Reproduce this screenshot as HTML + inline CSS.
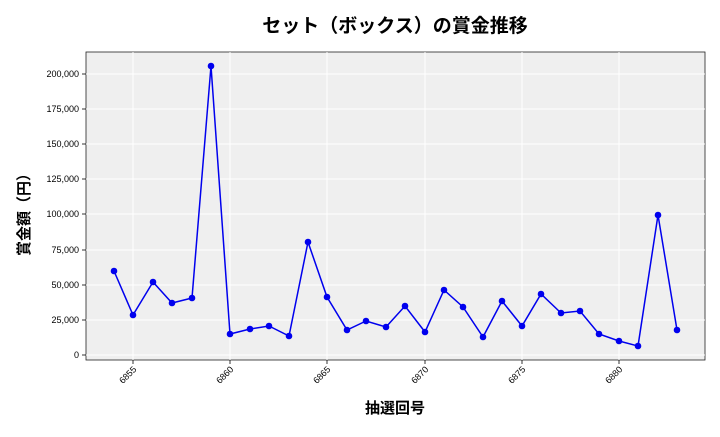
<!DOCTYPE html>
<html><head><meta charset="utf-8"><style>
body{margin:0;background:#fff;}
svg text{font-family:"Liberation Sans","Noto Sans CJK JP",sans-serif;}
</style></head><body>
<svg width="720" height="432" viewBox="0 0 720 432" xmlns="http://www.w3.org/2000/svg">
<rect width="720" height="432" fill="#fff"/>
<rect x="86" y="52" width="619" height="308" fill="#efefef" stroke="#222" stroke-width="0.8"/>
<g stroke="#fff" stroke-width="1">
<line x1="86" x2="705" y1="355" y2="355"/><line x1="86" x2="705" y1="320" y2="320"/>
<line x1="86" x2="705" y1="285" y2="285"/><line x1="86" x2="705" y1="250" y2="250"/>
<line x1="86" x2="705" y1="214" y2="214"/><line x1="86" x2="705" y1="179" y2="179"/>
<line x1="86" x2="705" y1="144" y2="144"/><line x1="86" x2="705" y1="109" y2="109"/>
<line x1="86" x2="705" y1="74" y2="74"/>
<line y1="52" y2="360" x1="133" x2="133"/><line y1="52" y2="360" x1="230" x2="230"/>
<line y1="52" y2="360" x1="327" x2="327"/><line y1="52" y2="360" x1="425" x2="425"/>
<line y1="52" y2="360" x1="522" x2="522"/><line y1="52" y2="360" x1="619" x2="619"/>
</g>
<g font-size="9" fill="#000" text-anchor="end">
<text x="79" y="358">0</text><text x="79" y="323">25,000</text><text x="79" y="288">50,000</text>
<text x="79" y="253">75,000</text><text x="79" y="217">100,000</text><text x="79" y="182">125,000</text>
<text x="79" y="147">150,000</text><text x="79" y="112">175,000</text><text x="79" y="77">200,000</text>
</g>
<g stroke="#000" stroke-width="0.8">
<line x1="82" x2="86" y1="355" y2="355"/><line x1="82" x2="86" y1="320" y2="320"/><line x1="82" x2="86" y1="285" y2="285"/>
<line x1="82" x2="86" y1="250" y2="250"/><line x1="82" x2="86" y1="214" y2="214"/><line x1="82" x2="86" y1="179" y2="179"/>
<line x1="82" x2="86" y1="144" y2="144"/><line x1="82" x2="86" y1="109" y2="109"/><line x1="82" x2="86" y1="74" y2="74"/>
<line y1="360" y2="364" x1="133" x2="133"/><line y1="360" y2="364" x1="230" x2="230"/><line y1="360" y2="364" x1="327" x2="327"/>
<line y1="360" y2="364" x1="425" x2="425"/><line y1="360" y2="364" x1="522" x2="522"/><line y1="360" y2="364" x1="619" x2="619"/>
</g>
<g font-size="9" fill="#000" text-anchor="end">
<text transform="translate(137,370) rotate(-45)">6855</text>
<text transform="translate(234,370) rotate(-45)">6860</text>
<text transform="translate(331,370) rotate(-45)">6865</text>
<text transform="translate(429,370) rotate(-45)">6870</text>
<text transform="translate(526,370) rotate(-45)">6875</text>
<text transform="translate(623,370) rotate(-45)">6880</text>
</g>
<polyline fill="none" stroke="#0000ee" stroke-width="1.5" points="114,271 133,315 153,282 172,303 192,298 211,66 230,334 250,329 269,326 289,336 308,242 327,297 347,330 366,321 386,327 405,306 425,332 444,290 463,307 483,337 502,301 522,326 541,294 561,313 580,311 599,334 619,341 638,346 658,215 677,330"/>
<g fill="#0000ee">
<circle cx="114" cy="271" r="3.3"/><circle cx="133" cy="315" r="3.3"/><circle cx="153" cy="282" r="3.3"/><circle cx="172" cy="303" r="3.3"/><circle cx="192" cy="298" r="3.3"/><circle cx="211" cy="66" r="3.3"/><circle cx="230" cy="334" r="3.3"/><circle cx="250" cy="329" r="3.3"/><circle cx="269" cy="326" r="3.3"/><circle cx="289" cy="336" r="3.3"/><circle cx="308" cy="242" r="3.3"/><circle cx="327" cy="297" r="3.3"/><circle cx="347" cy="330" r="3.3"/><circle cx="366" cy="321" r="3.3"/><circle cx="386" cy="327" r="3.3"/><circle cx="405" cy="306" r="3.3"/><circle cx="425" cy="332" r="3.3"/><circle cx="444" cy="290" r="3.3"/><circle cx="463" cy="307" r="3.3"/><circle cx="483" cy="337" r="3.3"/><circle cx="502" cy="301" r="3.3"/><circle cx="522" cy="326" r="3.3"/><circle cx="541" cy="294" r="3.3"/><circle cx="561" cy="313" r="3.3"/><circle cx="580" cy="311" r="3.3"/><circle cx="599" cy="334" r="3.3"/><circle cx="619" cy="341" r="3.3"/><circle cx="638" cy="346" r="3.3"/><circle cx="658" cy="215" r="3.3"/><circle cx="677" cy="330" r="3.3"/>
</g>
<text x="395" y="32" font-size="19" font-weight="bold" text-anchor="middle">セット（ボックス）の賞金推移</text>
<text x="395" y="413" font-size="15" font-weight="bold" text-anchor="middle">抽選回号</text>
<text transform="translate(29,211) rotate(-90)" font-size="15" font-weight="bold" text-anchor="middle">賞金額（円）</text>
</svg>
</body></html>
